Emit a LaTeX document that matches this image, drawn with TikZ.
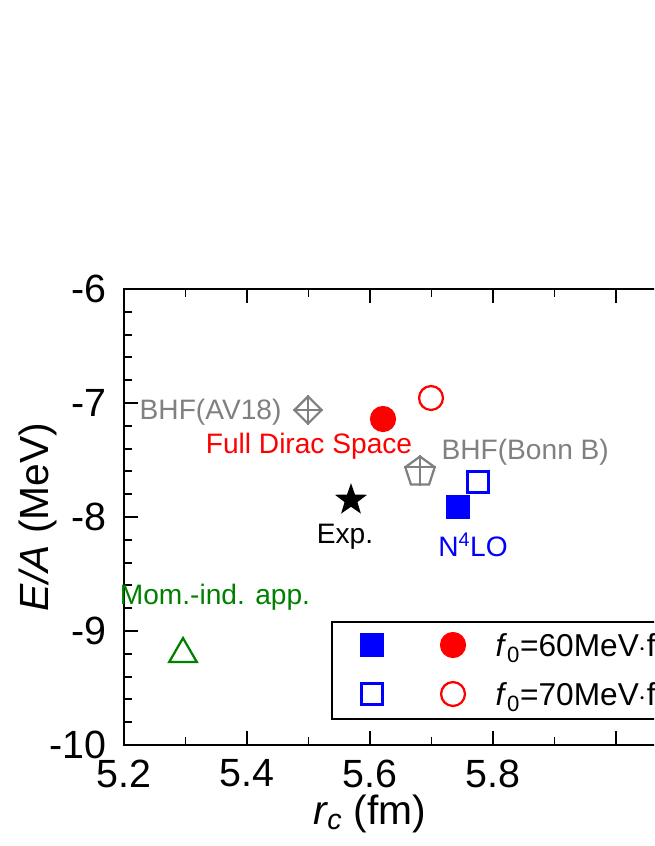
\documentclass[tikz,border=0pt]{standalone}
\usepackage{fontspec}
\setmainfont{Liberation Sans}
\usetikzlibrary{shapes.geometric}
\tikzset{
    tick label/.style={font=\fontsize{28}{28}\selectfont},
    point label/.style={font=\fontsize{20}{20}\selectfont},
    legend text/.style={font=\fontsize{22.5}{22.5}\selectfont, anchor=west},
    mark box/.style={rectangle, minimum size=15, inner sep=0, line width=1.6pt, draw=blue},
    mark dot/.style={circle, minimum size=17, inner sep=0, line width=1.6pt, draw=red},
}
\begin{document}
\begin{tikzpicture}[x=0.025cm, y=-0.025cm, line width=1.3pt]
    \useasboundingbox (0,0) rectangle (654,846);
    \clip (0,0) rectangle (654,846);
    % frame and ticks
    \draw (700,289) -- (124,289) -- (124,745) -- (700,745);
    \foreach \i in {0,...,19} \draw (124,{289+22.8*\i}) -- ++(8,0);
    \foreach \i in {0,...,5} \draw (124,{289+114*\i}) -- ++(14,0);
    \foreach \i in {0,...,8} {
        \draw ({124+61.5*\i},745) -- ++(0,-8);
        \draw ({124+61.5*\i},289) -- ++(0,8);
    }
    \foreach \i in {0,...,4} {
        \draw ({124+123*\i},745) -- ++(0,-14);
        \draw ({124+123*\i},289) -- ++(0,14);
    }
    \foreach \v [count=\i from 0] in {-6,-7,-8,-9,-10}
        \node[tick label, anchor=east] (yl\i) at (112,{289+114*\i}) {\v};
    \foreach \v [count=\i from 0] in {5.2,5.4,5.6,5.8}
        \node[tick label, anchor=north] (xl\i) at ({124+123*\i},754) {\v};
    \node[rotate=90, font=\fontsize{29}{29}\selectfont] (ylab) at (38,517) {\textit{E/A} (MeV)};
    \node[font=\fontsize{29}{29}\selectfont] (xlab) at (370,814) {\textit{r\textsubscript{c}} (fm)};
    % data points
    \node[diamond, draw=gray, line width=1.6pt, minimum size=20, inner sep=0] (av18) at (308,410) {};
    \draw[gray, line width=1.6pt] (av18.north) -- (av18.south) (av18.west) -- (av18.east);
    \node[regular polygon, regular polygon sides=5, draw=gray, line width=1.6pt, minimum size=22, inner sep=0] (bonn) at (420,472) {};
    \draw[gray, line width=1.6pt] (bonn.corner 1) -- (bonn.center |- bonn.side 3) (bonn.corner 2) -- (bonn.corner 5);
    \node[mark dot, fill=red] (fd60) at (383,419) {};
    \node[mark dot] (fd70) at (431,398) {};
    \node[mark box, fill=blue] (n60) at (458,507) {};
    \node[mark box] (n70) at (478,482) {};
    \node[star, star points=5, star point ratio=2.5, fill=black, minimum size=24, inner sep=0] (exp) at (351,500) {};
    \node[isosceles triangle, isosceles triangle apex angle=60, shape border rotate=90, draw=green!50!black, line width=1.6pt, minimum size=17, inner sep=0] (mom) at (183,654) {};
    % point labels
    \node[point label, text=gray, anchor=east] (tav18) at (287,412) {BHF(AV18)};
    \node[point label, text=red] (tfd) at (309,446) {Full Dirac Space};
    \node[point label, text=gray, anchor=west] (tbonn) at (436,452) {BHF(Bonn B)};
    \node[point label] (texp) at (345,537) {Exp.};
    \node[point label, text=blue] (tn) at (473,545) {N\textsuperscript{4}LO};
    \node[point label, text=green!50!black] (tmom) at (215,597) {Mom.-ind. app.};
    % legend
    \draw[line width=1pt] (700,622) -- (332,622) -- (332,719) -- (700,719);
    \node[mark box, fill=blue] (lg1) at (372,645) {};
    \node[mark dot, fill=red] (lg2) at (453,645) {};
    \node[mark box] (lg3) at (372,694) {};
    \node[mark dot] (lg4) at (453,694) {};
    \node[legend text] (lt1) at (490,648) {\textit{f}\textsubscript{0}=60MeV$\cdot$fm};
    \node[legend text] (lt2) at (490,697) {\textit{f}\textsubscript{0}=70MeV$\cdot$fm};
\end{tikzpicture}
\end{document}
